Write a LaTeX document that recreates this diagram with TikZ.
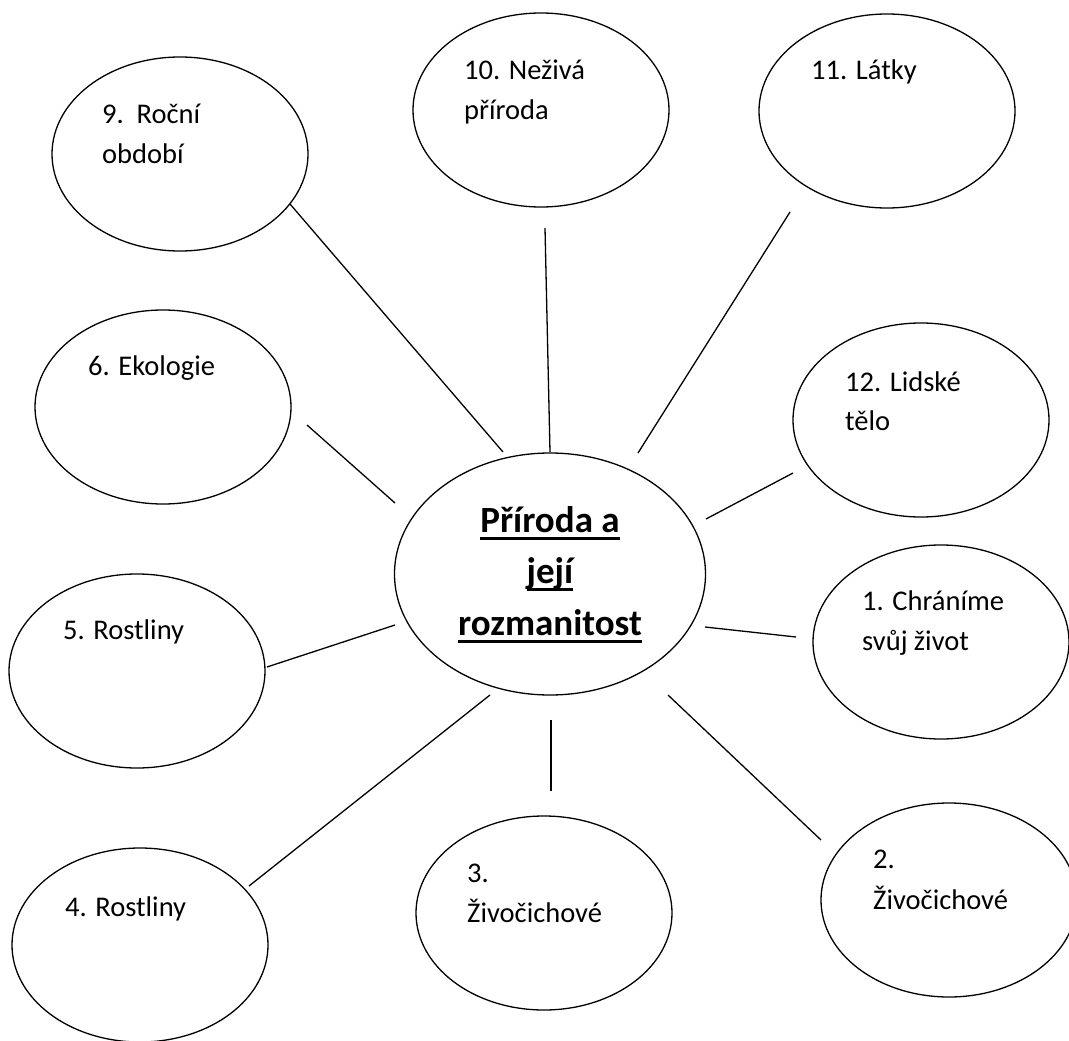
\documentclass[tikz,border=0pt]{standalone}
\usepackage{fontspec}
\setmainfont{Carlito}
\usetikzlibrary{shapes.geometric}
\newcommand\myul[1]{\setbox0\hbox{#1}\rlap{\rule[-8pt]{\wd0}{3pt}}\box0}
\tikzset{
  bubble/.style={ellipse, draw, line width=1.3pt, inner sep=0pt, minimum width=256pt, minimum height=194pt},
  lbl/.style={anchor=base west, inner sep=0pt, font=\fontsize{28.5}{34}\selectfont},
  ctr/.style={anchor=base, inner sep=0pt, font=\fontsize{37}{44}\bfseries},
  conn/.style={line width=1.3pt}
}
\begin{document}
\begin{tikzpicture}[x=1pt,y=-1pt]
\useasboundingbox (0,0) rectangle (1069,1041);
% central
\node[ellipse, draw, line width=1.3pt, inner sep=0pt, minimum width=311pt, minimum height=242pt] (c) at (550,574) {};
\node[ctr] (c1) at (550,532) {\myul{Příroda a}};
\node[ctr] (c2) at (550,583) {\myul{její}};
\node[ctr] (c3) at (550,635) {\myul{rozmanitost}};
% outer bubbles
\node[bubble] (e9) at (180,154) {};
\node[bubble] (e10) at (541,110) {};
\node[bubble] (e11) at (887,111) {};
\node[bubble] (e6) at (163,407) {};
\node[bubble] (e12) at (921,420) {};
\node[bubble] (e5) at (137,671) {};
\node[bubble] (e1) at (941,642) {};
\node[bubble] (e4) at (140,945) {};
\node[bubble] (e3) at (544,913) {};
\node[bubble] (e2) at (949,900) {};
% labels
\node[lbl] (t9a) at (102,124) {9.\ \ Roční};
\node[lbl] (t9b) at (102,163) {období};
\node[lbl] (t10a) at (464,80) {10. Neživá};
\node[lbl] (t10b) at (464,119) {příroda};
\node[lbl] (t11) at (811,80) {11. Látky};
\node[lbl] (t6) at (88,375) {6. Ekologie};
\node[lbl] (t12a) at (845,391) {12. Lidské};
\node[lbl] (t12b) at (845,430) {tělo};
\node[lbl] (t5) at (63,639) {5. Rostliny};
\node[lbl] (t1a) at (862,610) {1. Chráníme};
\node[lbl] (t1b) at (862,650) {svůj život};
\node[lbl] (t4) at (65,916) {4. Rostliny};
\node[lbl] (t3a) at (467,882) {3.};
\node[lbl] (t3b) at (467,922) {Živočichové};
\node[lbl] (t2a) at (873,868) {2.};
\node[lbl] (t2b) at (873,909) {Živočichové};
% connector end points
\coordinate (a9) at (290,204);  \coordinate (b9) at (503,452);
\coordinate (a10) at (545,228); \coordinate (b10) at (550,452);
\coordinate (a11) at (790,212); \coordinate (b11) at (638,453);
\coordinate (a6) at (307,425);  \coordinate (b6) at (395,503);
\coordinate (a12) at (793,473); \coordinate (b12) at (706,519);
\coordinate (a5) at (267,667);  \coordinate (b5) at (395,625);
\coordinate (a1) at (796,637);  \coordinate (b1) at (705,627);
\coordinate (a4) at (249,886);  \coordinate (b4) at (490,695);
\coordinate (a3) at (551,791);  \coordinate (b3) at (551,720);
\coordinate (a2) at (821,840);  \coordinate (b2) at (668,695);
\foreach \i in {9,10,11,6,12,5,1,4,3,2} \draw[conn] (a\i) -- (b\i);
\end{tikzpicture}
\end{document}
